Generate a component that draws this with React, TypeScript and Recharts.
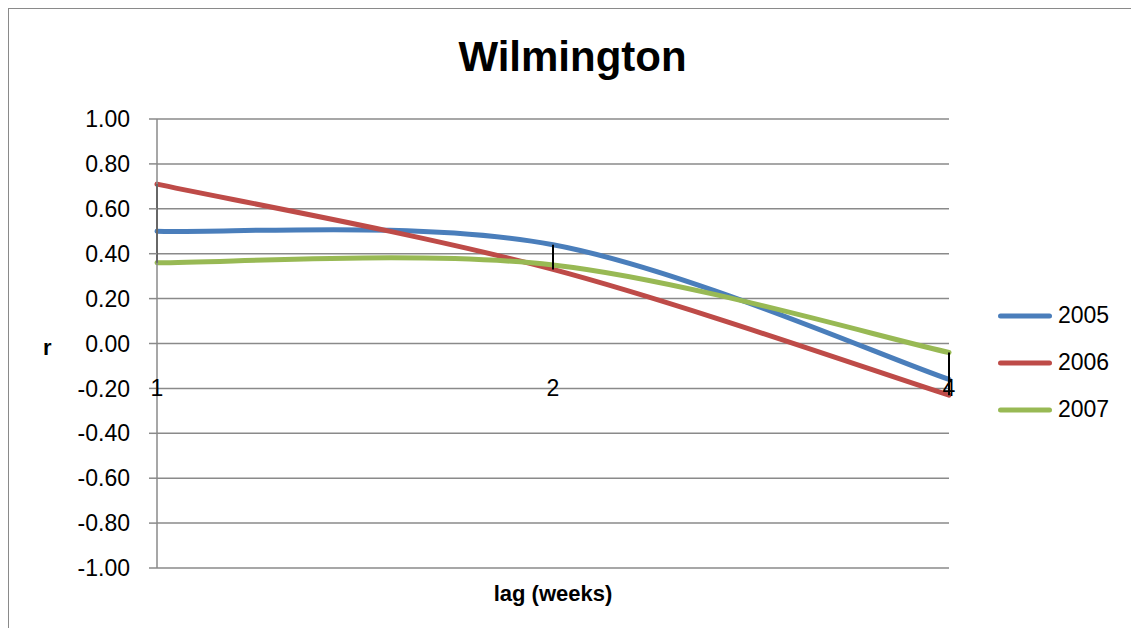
import { LineChart, Line, XAxis, YAxis, CartesianGrid, Legend, ReferenceLine } from 'recharts';

const lags = ['1', '2', '4'];
const r2005 = [0.5, 0.44, -0.16];
const r2006 = [0.71, 0.33, -0.23];
const r2007 = [0.36, 0.35, -0.04];
const yTicks = [-1, -0.8, -0.6, -0.4, -0.2, 0, 0.2, 0.4, 0.6, 0.8, 1];

const data = lags.map((lag, i) => ({ lag, y2005: r2005[i], y2006: r2006[i], y2007: r2007[i] }));

// vertical high-low line at each lag
const highLow = data.map((d) => {
  const vals = [d.y2005, d.y2006, d.y2007];
  return { lag: d.lag, hi: Math.max(...vals), lo: Math.min(...vals) };
});

const FONT = '"Liberation Sans", Arial, sans-serif';
const GRID = '#8a8a8a';
const W = 1129;
const H = 620;
const TOP = 111;
const BOTTOM = 560;
const ZERO_Y = TOP + (BOTTOM - TOP) / 2;

// Excel-style smoothed line (Catmull-Rom through the points)
const excelSmooth = (context: any) => {
  let pts: number[][] = [];
  return {
    areaStart() {},
    areaEnd() {},
    lineStart() {
      pts = [];
    },
    point(x: number, y: number) {
      pts.push([+x, +y]);
    },
    lineEnd() {
      const n = pts.length;
      if (!n) return;
      context.moveTo(pts[0][0], pts[0][1]);
      for (let i = 0; i < n - 1; i++) {
        const p0 = pts[Math.max(i - 1, 0)];
        const p1 = pts[i];
        const p2 = pts[i + 1];
        const p3 = pts[Math.min(i + 2, n - 1)];
        context.bezierCurveTo(
          p1[0] + (p2[0] - p0[0]) / 6,
          p1[1] + (p2[1] - p0[1]) / 6,
          p2[0] - (p3[0] - p1[0]) / 6,
          p2[1] - (p3[1] - p1[1]) / 6,
          p2[0],
          p2[1]
        );
      }
    },
  };
};

function LagTick({ x, payload }: any) {
  return (
    <text x={x} y={ZERO_Y + 52} textAnchor="middle" fontFamily={FONT} fontSize={23} fill="#000">
      {payload.value}
    </text>
  );
}

function LegendBox({ payload }: any) {
  return (
    <div style={{ fontFamily: FONT }}>
      {(payload || []).map((p: any) => (
        <div key={p.value} style={{ display: 'flex', alignItems: 'center', height: 47 }}>
          <svg width={54} height={8}>
            <line x1={2.5} y1={4} x2={51.5} y2={4} stroke={p.color} strokeWidth={5} strokeLinecap="round" />
          </svg>
          <span style={{ marginLeft: 6, fontSize: 23, color: '#000' }}>{p.value}</span>
        </div>
      ))}
    </div>
  );
}

export default function App() {
  return (
    <div
      style={{
        position: 'relative',
        width: W - 1,
        height: H - 1,
        borderTop: `1px solid ${GRID}`,
        borderLeft: `1px solid ${GRID}`,
        borderRight: `1px solid ${GRID}`,
        background: '#fff',
        fontFamily: FONT,
      }}
    >
      <div style={{ position: 'absolute', left: -1, top: -1, width: W, height: H }}>
        <div
          style={{
            position: 'absolute',
            left: 0,
            top: 25,
            width: W,
            textAlign: 'center',
            fontSize: 42,
            lineHeight: '48px',
            fontWeight: 'bold',
          }}
        >
          Wilmington
        </div>
        <LineChart width={W} height={H} data={data} margin={{ top: TOP, right: W - 941, bottom: 20, left: 0 }}>
          <CartesianGrid vertical={false} stroke={GRID} strokeWidth={1.5} />
          <XAxis
            dataKey="lag"
            height={40}
            axisLine={false}
            tickLine={false}
            tick={<LagTick />}
            label={{ value: 'lag (weeks)', position: 'insideTop', offset: 17, fontFamily: FONT, fontSize: 22, fontWeight: 'bold', fill: '#000' }}
          />
          <YAxis
            width={149}
            domain={[-1, 1]}
            ticks={yTicks}
            interval={0}
            tickFormatter={(v: number) => v.toFixed(2)}
            tick={{ fontFamily: FONT, fontSize: 23, fill: '#000' }}
            tickSize={8}
            tickMargin={19}
            axisLine={{ stroke: GRID, strokeWidth: 1.5 }}
            tickLine={{ stroke: GRID, strokeWidth: 1.5 }}
            label={{ value: 'r', position: 'insideLeft', offset: 35, dy: 4, fontFamily: FONT, fontSize: 22, fontWeight: 'bold', fill: '#000' }}
          />
          <Legend layout="vertical" align="center" verticalAlign="middle" content={<LegendBox />} wrapperStyle={{ left: 990, top: 284, width: 'auto' }} />
          <Line type={excelSmooth as any} dataKey="y2005" name="2005" stroke="#4a7ebb" strokeWidth={5} strokeLinecap="round" dot={false} isAnimationActive={false} />
          <Line type={excelSmooth as any} dataKey="y2006" name="2006" stroke="#be4b48" strokeWidth={5} strokeLinecap="round" dot={false} isAnimationActive={false} />
          <Line type={excelSmooth as any} dataKey="y2007" name="2007" stroke="#98b954" strokeWidth={5} strokeLinecap="round" dot={false} isAnimationActive={false} />
          {highLow.map((h) => (
            <ReferenceLine
              key={h.lag}
              segment={[
                { x: h.lag, y: h.hi },
                { x: h.lag, y: h.lo },
              ]}
              stroke="#000"
              strokeWidth={2}
            />
          ))}
        </LineChart>
      </div>
    </div>
  );
}
